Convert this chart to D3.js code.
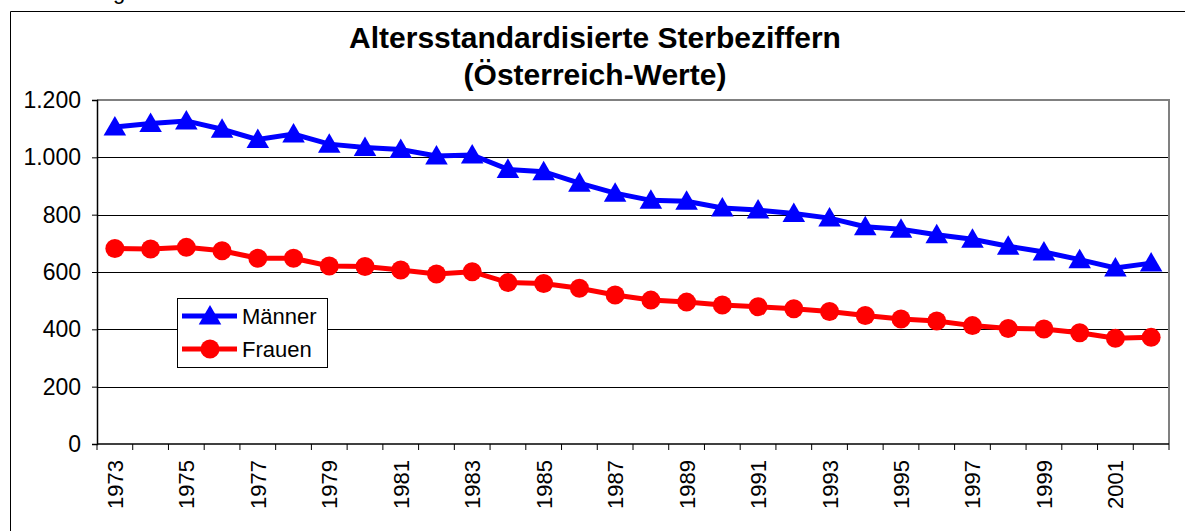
<!DOCTYPE html>
<html>
<head>
<meta charset="utf-8">
<script src="https://cdn.jsdelivr.net/npm/d3@7"></script>
<style>
  body { margin: 0; background: #fff; }
  svg { display: block; font-family: "Liberation Sans", Arial, sans-serif; }
</style>
</head>
<body>
<svg width="1185" height="531"></svg>
<script>
// Data
let years = ["1973","1974","1975","1976","1977","1978","1979","1980","1981","1982",
             "1983","1984","1985","1986","1987","1988","1989","1990","1991","1992",
             "1993","1994","1995","1996","1997","1998","1999","2000","2001","2002"];
let maenner = [1106,1118,1127,1098,1062,1081,1046,1034,1027,1005,
               1008,958,950,910,875,850,847,823,816,804,
               788,758,749,730,714,690,670,643,614,631];
let frauen = [682,680,686,674,648,648,621,619,607,593,
              601,563,560,543,520,502,495,485,479,472,
              462,448,436,429,413,403,401,388,369,372];
let yTicks = [0,200,400,600,800,1000,1200];
let seriesNames = ["Männer","Frauen"];
let titleLines = ["Altersstandardisierte Sterbeziffern","(Österreich-Werte)"];

let svg = d3.select("svg");

let plot = {left: 97, right: 1169, top: 100, bottom: 444};

let x = d3.scaleBand().domain(years).range([plot.left, plot.right]);
let y = d3.scaleLinear().domain([0, 1200]).range([plot.bottom, plot.top]);

let de = d3.formatLocale({decimal: ",", thousands: ".", grouping: [3], currency: ["", "€"]});

// outer chart frame (runs off the page to the right and bottom)
svg.append("path")
    .attr("d", "M1190,11.5H10.5V540")
    .attr("fill", "none")
    .attr("stroke", "#000")
    .attr("stroke-width", 1);

// descender of a cut-off heading above the chart
svg.append("text")
    .attr("x", 113).attr("y", -1)
    .style("font-size", "22px")
    .text("g");

// title
svg.selectAll(".title")
    .data(titleLines)
    .enter().append("text")
    .attr("class", "title")
    .attr("x", 595)
    .attr("y", (d, i) => 48 + i * 37)
    .attr("text-anchor", "middle")
    .style("font-size", "30px")
    .style("font-weight", "bold")
    .text(d => d);

// grid lines
svg.selectAll(".grid")
    .data(yTicks.filter(d => d > 0 && d < 1200))
    .enter().append("line")
    .attr("x1", plot.left).attr("x2", plot.right)
    .attr("y1", d => Math.round(y(d)) + 0.5).attr("y2", d => Math.round(y(d)) + 0.5)
    .attr("stroke", "#000")
    .attr("stroke-width", 1);

// plot frame, top and right in grey
svg.append("path")
    .attr("d", `M${plot.left},${plot.top}H${plot.right}V${plot.bottom}`)
    .attr("fill", "none")
    .attr("stroke", "#808080")
    .attr("stroke-width", 2);

// y axis
let yAxis = svg.append("g")
    .attr("transform", `translate(${plot.left},0)`)
    .call(d3.axisLeft(y).tickValues(yTicks).tickSize(5).tickPadding(11)
        .tickFormat(de.format(",")));
yAxis.select(".domain").attr("stroke-width", 1.5);
yAxis.selectAll("text").style("font-size", "23px").attr("fill", "#000")
    .style("font-family", "'Liberation Sans', Arial, sans-serif");

// x axis: ticks between the categories, labels every second year
let xAxis = svg.append("g")
    .attr("transform", `translate(0,${plot.bottom})`);
xAxis.append("line")
    .attr("x1", plot.left).attr("x2", plot.right)
    .attr("stroke", "#000").attr("stroke-width", 1.5);
xAxis.selectAll(".tick")
    .data(years.concat(["end"]))
    .enter().append("line")
    .attr("x1", d => d === "end" ? plot.right : x(d))
    .attr("x2", d => d === "end" ? plot.right : x(d))
    .attr("y1", 0).attr("y2", 6)
    .attr("stroke", "#000");
xAxis.selectAll(".lbl")
    .data(years.filter((d, i) => i % 2 === 0))
    .enter().append("text")
    .attr("transform", d => `translate(${x(d) + x.bandwidth() / 2 + 8},16) rotate(-90)`)
    .attr("text-anchor", "end")
    .style("font-size", "22px")
    .text(d => d);

// lines and markers
let line = d3.line()
    .x((d, i) => x(years[i]) + x.bandwidth() / 2)
    .y(d => y(d));

svg.append("path")
    .datum(frauen)
    .attr("d", line)
    .attr("fill", "none")
    .attr("stroke", "#ff0000")
    .attr("stroke-width", 5);

svg.append("path")
    .datum(maenner)
    .attr("d", line)
    .attr("fill", "none")
    .attr("stroke", "#0000ff")
    .attr("stroke-width", 5);

let tri = d3.symbol().type(d3.symbolTriangle).size(220);

// d3's triangle sits on its centroid; shift it so its box is centred on the point
svg.selectAll(".tri")
    .data(maenner)
    .enter().append("path")
    .attr("class", "tri")
    .attr("d", tri)
    .attr("transform", (d, i) => `translate(${x(years[i]) + x.bandwidth() / 2},${y(d) + 2})`)
    .attr("fill", "#0000ff");

svg.selectAll(".dot")
    .data(frauen)
    .enter().append("circle")
    .attr("class", "dot")
    .attr("cx", (d, i) => x(years[i]) + x.bandwidth() / 2)
    .attr("cy", d => y(d))
    .attr("r", 9.5)
    .attr("fill", "#ff0000");

// legend
let legend = svg.append("g");
legend.append("rect")
    .attr("x", 177.5).attr("y", 298.5)
    .attr("width", 150).attr("height", 69)
    .attr("fill", "#fff")
    .attr("stroke", "#000");

let rows = legend.selectAll(".row")
    .data(seriesNames)
    .enter().append("g")
    .attr("transform", (d, i) => `translate(0,${316 + i * 33})`);
rows.append("line")
    .attr("x1", 182).attr("x2", 237)
    .attr("stroke", (d, i) => i === 0 ? "#0000ff" : "#ff0000")
    .attr("stroke-width", 5);
rows.each(function(d, i) {
    let g = d3.select(this);
    if (i === 0) {
        g.append("path").attr("d", tri).attr("transform", "translate(210,2)").attr("fill", "#0000ff");
    } else {
        g.append("circle").attr("cx", 210).attr("r", 9.5).attr("fill", "#ff0000");
    }
});
rows.append("text")
    .attr("x", 242).attr("y", 8)
    .style("font-size", "22px")
    .text(d => d);
</script>
</body>
</html>
